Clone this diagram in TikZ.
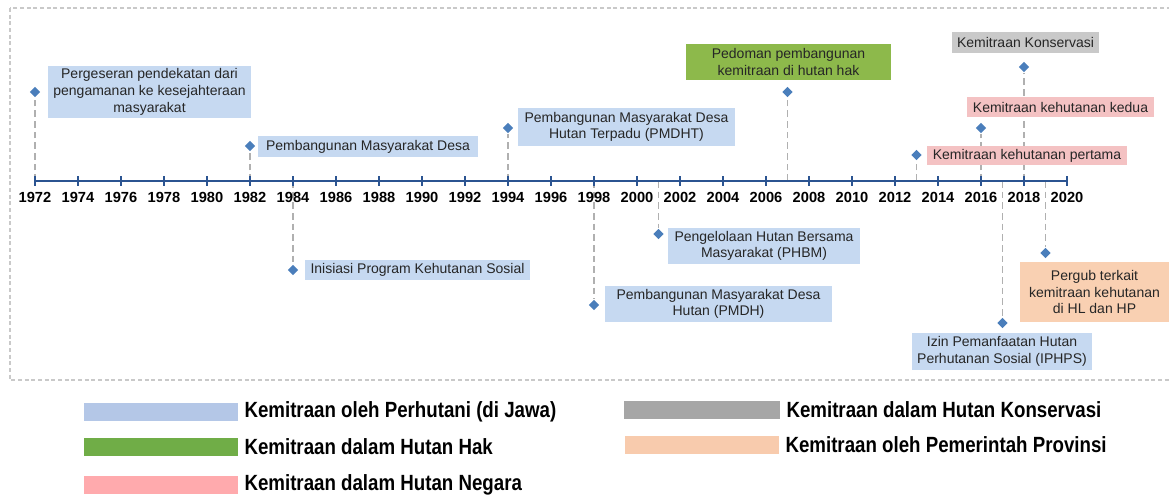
\documentclass[tikz,border=0pt]{standalone}
\usepackage{fontspec}
\setmainfont{Liberation Sans}
\newfontfamily\legendfont[FakeStretch=0.85]{Liberation Sans}
\usetikzlibrary{shapes.geometric}
\definecolor{jawablue}{HTML}{C6D9F1}
\definecolor{hakgreen}{HTML}{8DB94B}
\definecolor{negarapink}{HTML}{F4C2C3}
\definecolor{konsgray}{HTML}{C9C9C9}
\definecolor{provorange}{HTML}{F9D0B2}
\definecolor{pinblue}{HTML}{4A7EBB}
\definecolor{axisblue}{HTML}{2B5491}
\definecolor{stemgray}{HTML}{B0B0B0}
% warna keterangan
\definecolor{legblue}{HTML}{B4C7E7}
\definecolor{leggreen}{HTML}{70AD47}
\definecolor{legpink}{HTML}{FFAAAD}
\definecolor{leggray}{HTML}{A6A6A6}
\definecolor{legorange}{HTML}{F8CBAD}
\begin{document}
\begin{tikzpicture}[x=0.75pt,y=-0.75pt,
    event/.style={fill=#1,text=black!85,font=\fontsize{10.5}{12.5}\selectfont,align=center,inner sep=0pt},
    pin/.style={diamond,fill=pinblue,inner sep=0pt,minimum size=8pt},
    stem/.style={draw=stemgray,line width=1.3pt,dash pattern=on 5pt off 3pt},
    axisline/.style={draw=axisblue,line width=2pt},
    year/.style={font=\fontsize{11}{12}\selectfont\bfseries,inner sep=0pt},
    swatch/.style={fill=#1,inner sep=0pt,minimum width=115.5pt,minimum height=13.5pt},
    legtext/.style={anchor=west,font=\legendfont\fontsize{16.5}{18}\selectfont\bfseries,inner sep=0pt}]
    \useasboundingbox (0,0) rectangle (1169,496);
    \draw[konsgray,line width=1pt,dash pattern=on 3pt off 2pt] (10,8) rectangle (1185,380);
    % titik tahun pada sumbu
    \foreach \yr in {1972,...,2020}
        \coordinate (t\yr) at ({35+(\yr-1972)*21.5},181);
    % penanda kejadian
    \foreach \yr/\h in {1972/92,1982/146,1984/270,1994/128,1998/305,2001/234,2007/92,
                        2013/155,2016/128,2017/323,2018/67,2019/253}{
        \node[pin] (d\yr) at (t\yr |- 0,\h) {};
        \draw[stem] (t\yr) -- (d\yr);
    }
    \node[event=jawablue,minimum width=152.25pt,minimum height=39pt] (b1972) at (149.5,92)
        {Pergeseran pendekatan dari\\pengamanan ke kesejahteraan\\masyarakat};
    \node[event=jawablue,minimum width=165pt,minimum height=15.75pt] (b1982) at (368,146.5)
        {Pembangunan Masyarakat Desa};
    \node[event=jawablue,minimum width=168.75pt,minimum height=15pt] (b1984) at (417.5,270)
        {Inisiasi Program Kehutanan Sosial};
    \node[event=jawablue,minimum width=162.75pt,minimum height=28.5pt] (b1994) at (626.5,127)
        {Pembangunan Masyarakat Desa\\Hutan Terpadu (PMDHT)};
    \node[event=jawablue,minimum width=170.25pt,minimum height=27pt] (b1998) at (718.5,304)
        {Pembangunan Masyarakat Desa\\Hutan (PMDH)};
    \node[event=jawablue,minimum width=144pt,minimum height=27pt] (b2001) at (764,246)
        {Pengelolaan Hutan Bersama\\Masyarakat (PHBM)};
    \node[event=hakgreen,minimum width=153.75pt,minimum height=27pt] (b2007) at (788.5,62)
        {Pedoman pembangunan\\kemitraan di hutan hak};
    \node[event=negarapink,minimum width=150pt,minimum height=14.25pt] (b2013) at (1027,155.5)
        {Kemitraan kehutanan pertama};
    \node[event=negarapink,minimum width=140.25pt,minimum height=15pt] (b2016) at (1060.5,107)
        {Kemitraan kehutanan kedua};
    \node[event=konsgray,minimum width=110.25pt,minimum height=15.75pt] (b2018) at (1025.5,42.5)
        {Kemitraan Konservasi};
    \node[event=jawablue,minimum width=135pt,minimum height=27.75pt] (b2017) at (1002,351.5)
        {Izin Pemanfaatan Hutan\\Perhutanan Sosial (IPHPS)};
    \node[event=provorange,minimum width=111.75pt,minimum height=45pt] (b2019) at (1094.5,292)
        {Pergub terkait\\kemitraan kehutanan\\di HL dan HP};
    % sumbu waktu
    \draw[axisline] (t1972) -- (t2020);
    \foreach \yr in {1972,1974,...,2020}{
        \draw[axisline] ([yshift=3.75pt]t\yr) -- ([yshift=-3.75pt]t\yr);
        \node[year] (l\yr) at (t\yr |- 0,197) {\yr};
    }
    % keterangan
    \node[swatch=legblue] (k1) at (161,412) {};
    \node[swatch=leggreen] (k2) at (161,446.5) {};
    \node[swatch=legpink] (k3) at (161,485) {};
    \node[swatch=leggray,minimum width=117pt] (k4) at (702,410) {};
    \node[swatch=legorange] (k5) at (702,445) {};
    \node[legtext] (k1t) at ([xshift=4.5pt]k1.east) {Kemitraan oleh Perhutani (di Jawa)};
    \node[legtext] (k2t) at ([xshift=4.5pt]k2.east) {Kemitraan dalam Hutan Hak};
    \node[legtext] (k3t) at ([xshift=4.5pt]k3.east) {Kemitraan dalam Hutan Negara};
    \node[legtext] (k4t) at ([xshift=4.5pt]k4.east) {Kemitraan dalam Hutan Konservasi};
    \node[legtext] (k5t) at ([xshift=4.5pt]k5.east) {Kemitraan oleh Pemerintah Provinsi};
\end{tikzpicture}
\end{document}
